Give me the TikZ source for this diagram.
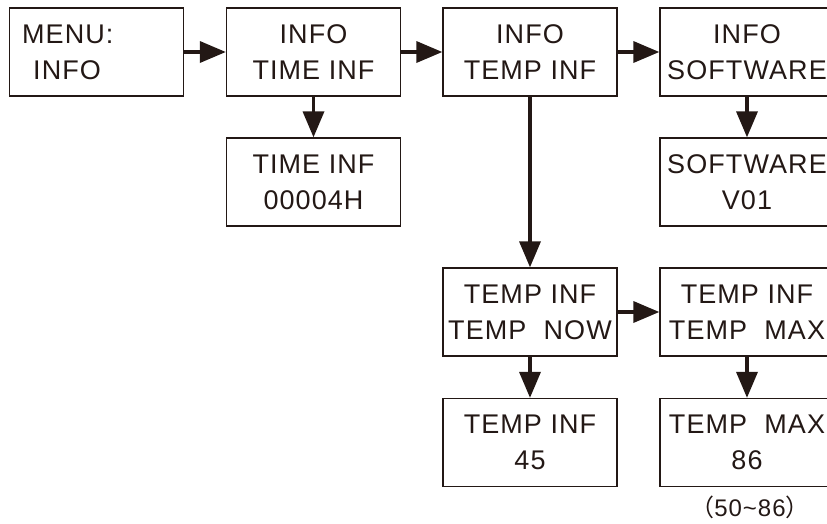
\documentclass[tikz,border=0pt]{standalone}
\usepackage{fontspec}
\setmainfont{Liberation Sans}[LetterSpace=4]
\newfontfamily\cjk{Noto Sans CJK SC}
\usetikzlibrary{arrows.meta}
\definecolor{ink}{HTML}{231815}
\begin{document}
\begin{tikzpicture}[x=1pt,y=-1pt,
  box/.style={draw=ink, line width=1.3pt, minimum width=174pt, minimum height=88pt,
    inner sep=0pt, align=center, text=ink, font=\fontsize{27}{36}\selectfont},
  lbl/.style={inner sep=0pt, text=ink, font=\fontsize{27}{36}\selectfont},
  arr/.style={draw=ink, line width=3.5pt, -{Triangle[length=26pt,width=21pt]}}]
\useasboundingbox (0,0) rectangle (827,523);
% top row
\node[box] (menu) at (96.5,52) {};
\node[lbl, anchor=base west] (menut1) at (22,43) {MENU:};
\node[lbl, anchor=base west] (menut2) at (33,79) {INFO};
\node[box] (time) at (313.5,52) {INFO\\TIME INF};
\node[box] (temp) at (530,52) {INFO\\TEMP INF};
\node[box] (soft) at (747,52) {INFO\\SOFTWARE};
% second row
\node[box] (timev) at (313.5,182) {TIME INF\\00004H};
\node[box] (softv) at (747,182) {SOFTWARE\\V01};
% third row
\node[box] (now) at (530,312) {TEMP INF\\TEMP\ \ NOW};
\node[box] (max) at (747,312) {TEMP INF\\TEMP\ \ MAX};
% fourth row
\node[box] (nowv) at (530,442.5) {TEMP INF\\45};
\node[box] (maxv) at (747,442.5) {TEMP\ \ MAX\\86};
\node[inner sep=0pt, text=ink, font=\fontsize{24}{28}\selectfont, anchor=base] (range) at (750,516)
  {{\cjk （}50\textasciitilde86{\cjk ）}};
% arrows
\draw[arr] (menu.east) -- (time.west);
\draw[arr] (time.east) -- (temp.west);
\draw[arr] (temp.east) -- (soft.west);
\draw[arr] (time.south) -- (timev.north);
\draw[arr] (soft.south) -- (softv.north);
\draw[arr] (temp.south) -- (now.north);
\draw[arr] (now.east) -- (max.west);
\draw[arr] (now.south) -- (nowv.north);
\draw[arr] (max.south) -- (maxv.north);
\end{tikzpicture}
\end{document}
